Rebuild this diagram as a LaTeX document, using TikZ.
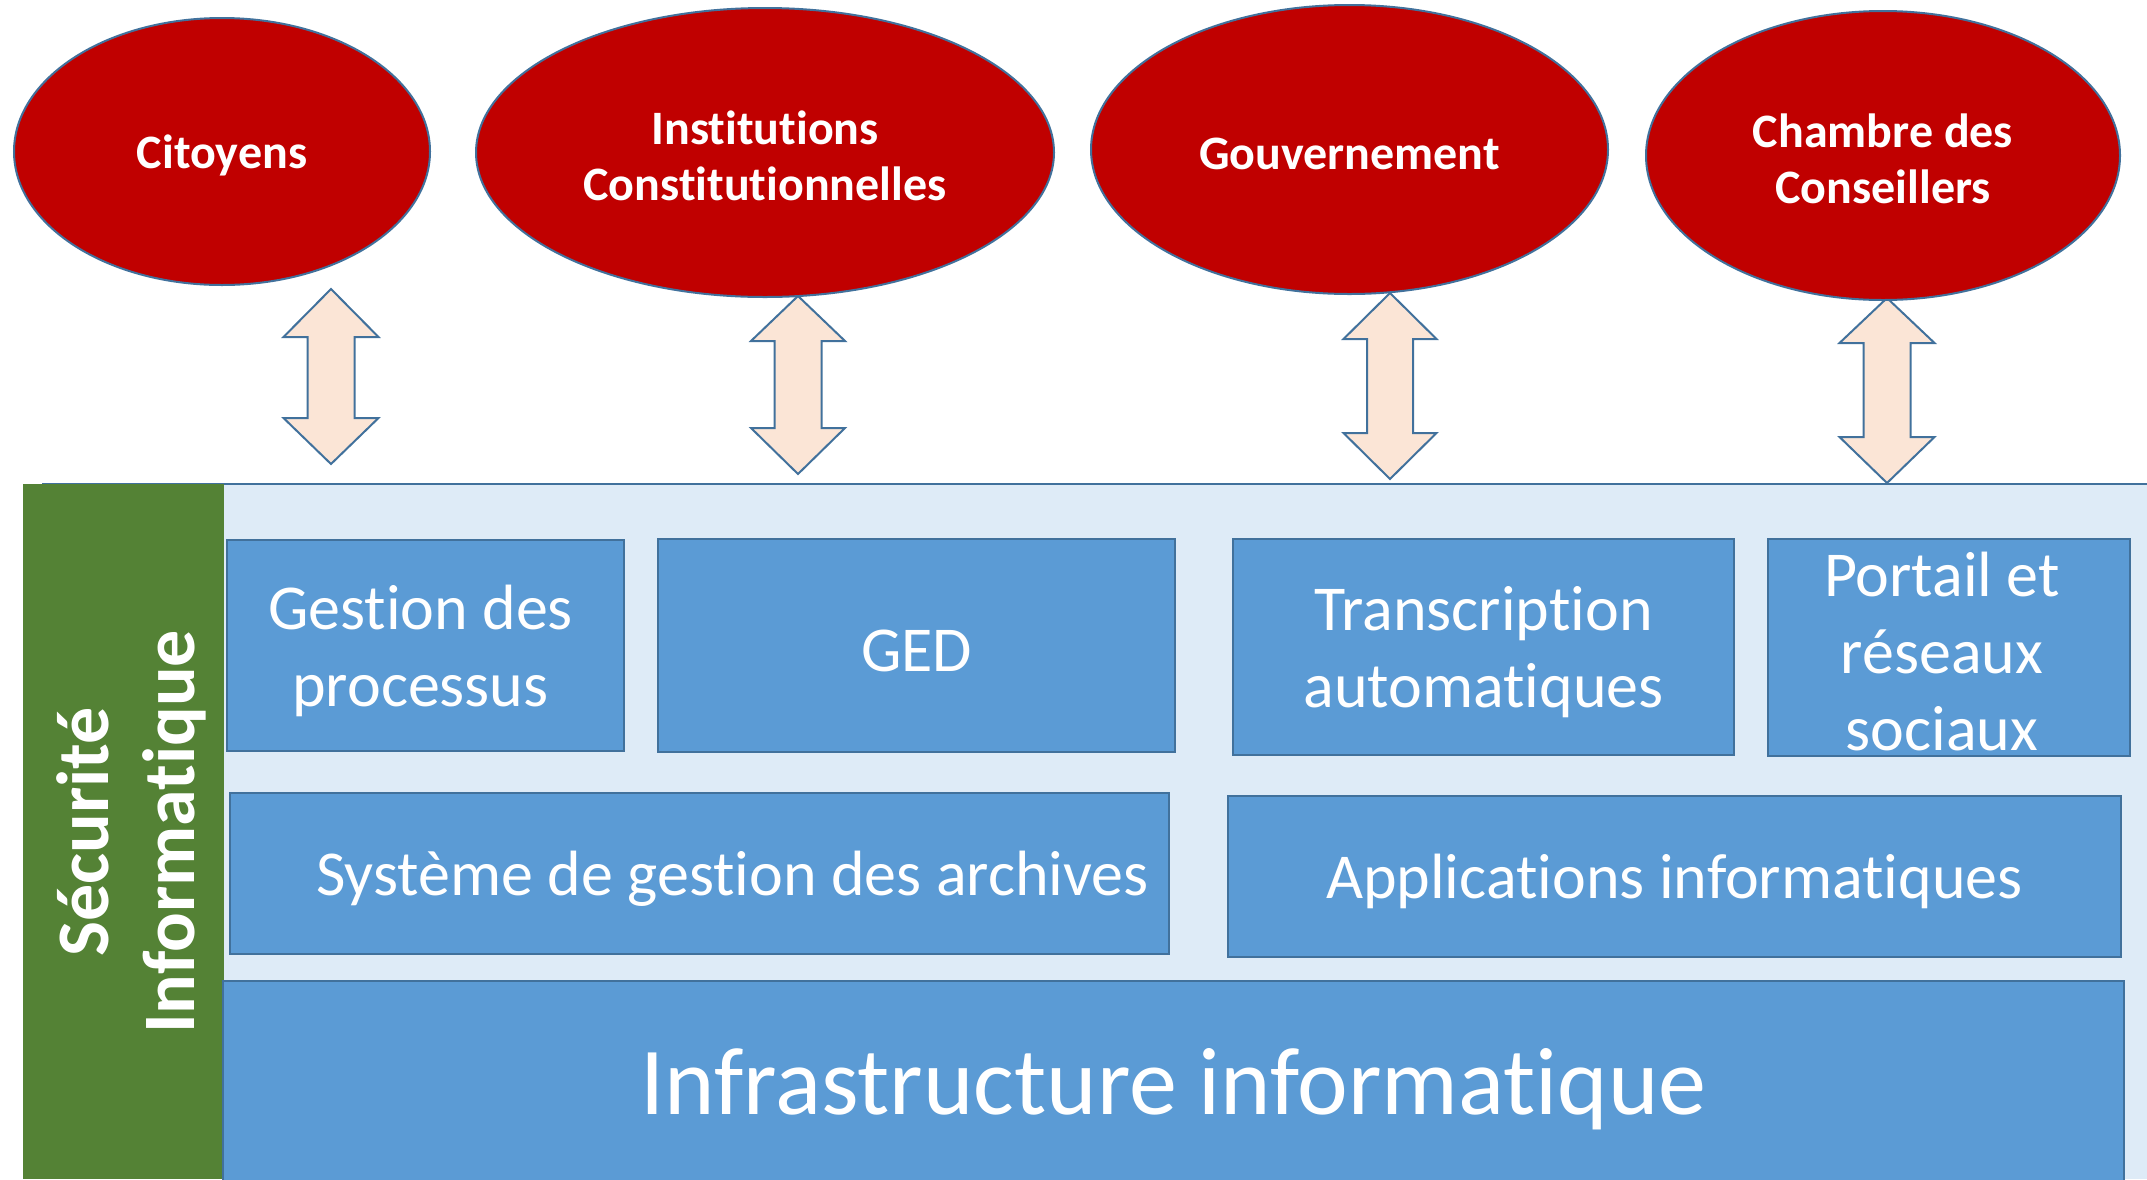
\documentclass[tikz,border=0pt]{standalone}
\usepackage{fontspec}
\setmainfont{Carlito}[Ligatures={NoCommon}]
\usetikzlibrary{shapes.geometric}
\definecolor{ellred}{HTML}{C00000}
\definecolor{bordc}{HTML}{41719C}
\definecolor{boxc}{HTML}{5B9BD5}
\definecolor{greenc}{HTML}{548235}
\definecolor{panelc}{HTML}{DEEBF7}
\definecolor{arrc}{HTML}{FBE5D6}
\begin{document}
\begin{tikzpicture}[x=0.5pt,y=-0.5pt,
  ell/.style={ellipse, draw=bordc, line width=1pt, fill=ellred, inner sep=0pt},
  elltext/.style={text=white, inner sep=0pt, align=center, font=\fontsize{24}{28}\selectfont\bfseries},
  box/.style={rectangle, draw=bordc, line width=1.3pt, fill=boxc, inner sep=0pt},
  boxtext/.style={text=white, inner sep=0pt, align=center, font=\fontsize{32}{38.5}\selectfont},
  arr/.style={draw=bordc, line width=1pt, fill=arrc, line join=miter}]
\useasboundingbox (0,0) rectangle (2147,1179);
% panel
\fill[panelc] (23,484) rectangle (2147,1179);
\draw[bordc, line width=1.2pt] (42,484) -- (2147,484);
\fill[greenc] (23,484) rectangle (224,1179);
\node[rotate=90, text=white, align=center, inner sep=0pt,
  font=\fontsize{37}{43}\selectfont\bfseries] (secu) at (131,832) {Sécurité\\Informatique};
% boxes
\node[box, minimum width=198.5pt, minimum height=105.5pt] (gest) at (425.5,645.5) {};
\node[box, minimum width=258.5pt, minimum height=106.5pt] (ged) at (916.5,645.5) {};
\node[box, minimum width=250.5pt, minimum height=108pt] (trans) at (1483.5,647) {};
\node[box, minimum width=181pt, minimum height=108.5pt] (port) at (1949,647.5) {};
\node[box, minimum width=469.5pt, minimum height=80.5pt] (sga) at (699.5,873.5) {};
\node[box, minimum width=446.5pt, minimum height=80.5pt] (appl) at (1674.5,876.5) {};
\node[box, minimum width=950.5pt, minimum height=102pt] (infra) at (1173.5,1083) {};
\node[boxtext] (gestt) at ([xshift=-2.5pt,yshift=-2.5pt]gest.center) {Gestion des\\processus};
\node[boxtext] (gedt) at ([yshift=-2.5pt]ged.center) {GED};
\node[boxtext] (transt) at ([yshift=-2.5pt]trans.center) {Transcription\\automatiques};
\node[boxtext] (portt) at ([xshift=-3.5pt,yshift=-2pt]port.center) {Portail et\\réseaux\\sociaux};
\node[boxtext] (sgat) at ([xshift=16.5pt,yshift=-2.5pt]sga.center) {Système de gestion des archives};
\node[boxtext] (applt) at ([yshift=-2.5pt]appl.center) {Applications informatiques};
\node[boxtext, font=\fontsize{48}{56}\selectfont] (infrat) at ([yshift=-3pt]infra.center) {Infrastructure informatique};
% arrows
\foreach \cx/\t/\hb/\lb/\b/\sw/\hw in {331/289/337/418/464/23.5/47.5,
  798/296/341/428/474/23.5/47, 1390/293/339/433/479/23/46.5, 1887/298/343/437/483/23.5/47.5}
  \draw[arr] (\cx,\t) -- (\cx+\hw,\hb) -- (\cx+\sw,\hb) -- (\cx+\sw,\lb) -- (\cx+\hw,\lb)
    -- (\cx,\b) -- (\cx-\hw,\lb) -- (\cx-\sw,\lb) -- (\cx-\sw,\hb) -- (\cx-\hw,\hb) -- cycle;
% ellipses
\node[ell, minimum width=208pt, minimum height=133.5pt] (cit) at (222,151.5) {};
\node[ell, minimum width=289pt, minimum height=144.5pt] (inst) at (765,152.5) {};
\node[ell, minimum width=258.5pt, minimum height=144.5pt] (gouv) at (1349.5,149.5) {};
\node[ell, minimum width=237pt, minimum height=144.5pt] (cham) at (1883,155.5) {};
\node[elltext] (citt) at ([yshift=-2pt]cit.center) {Citoyens};
\node[elltext] (instt) at ([yshift=-1.5pt]inst.center) {Institutions\\Constitutionnelles};
\node[elltext] (gouvt) at ([yshift=-2pt]gouv.center) {Gouvernement};
\node[elltext] (chamt) at ([yshift=-1.5pt]cham.center) {Chambre des\\Conseillers};
\end{tikzpicture}
\end{document}
